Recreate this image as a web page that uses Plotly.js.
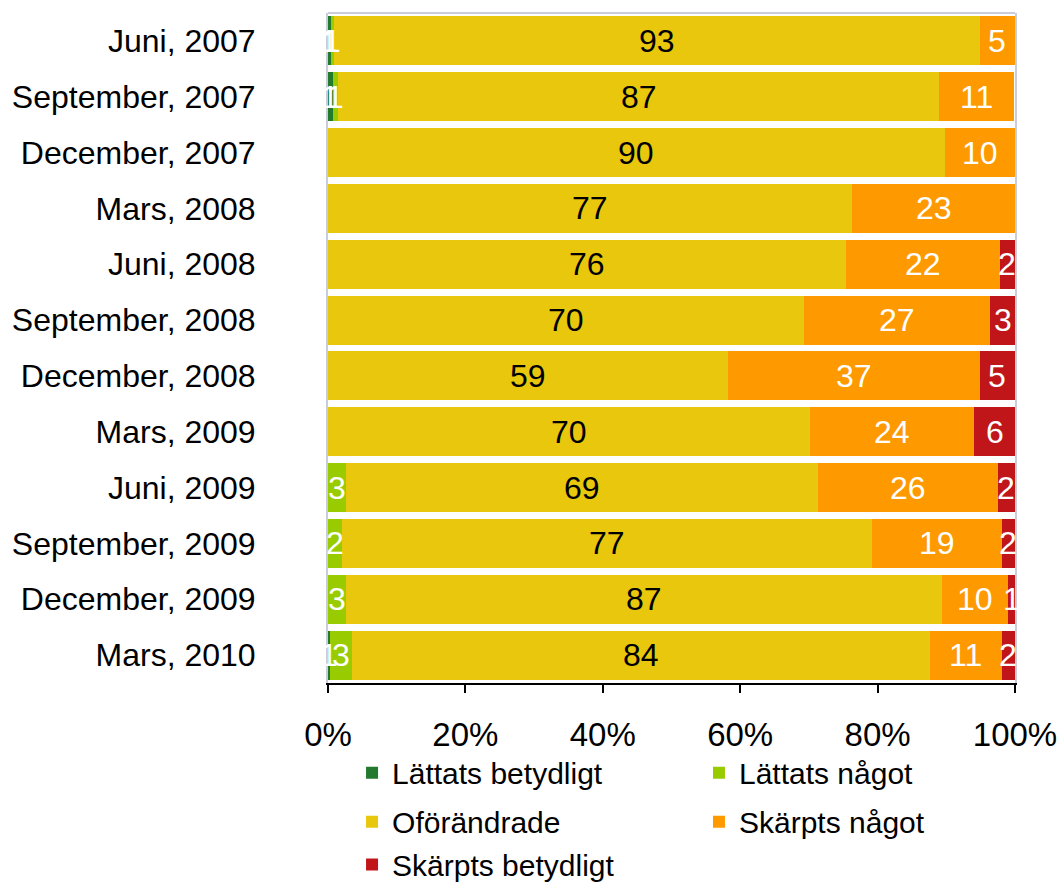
<!DOCTYPE html>
<html>
<head>
<meta charset="utf-8">
<script src="https://cdn.plot.ly/plotly-3.0.1.min.js"></script>
<style>html,body{margin:0;padding:0;background:#fff;}#chart{width:1059px;height:884px;}</style>
</head>
<body>
<div id="chart"></div>
<script>
var categories = ["Juni, 2007","September, 2007","December, 2007","Mars, 2008","Juni, 2008","September, 2008","December, 2008","Mars, 2009","Juni, 2009","September, 2009","December, 2009","Mars, 2010"];

// Bar widths (percent)
var lattatsBetydligt  = [0.4, 0.7, 0, 0, 0, 0, 0, 0, 0, 0, 0, 0.3];
var lattatsNagot      = [0.5, 0.7, 0, 0, 0, 0, 0, 0, 2.6, 2.0, 2.6, 3.2];
var oforandrade       = [94.0, 87.6, 89.8, 76.3, 75.4, 69.3, 58.2, 70.2, 68.7, 77.2, 86.8, 84.1];
var skarptsNagot      = [5.1, 10.9, 10.2, 23.7, 22.4, 27.1, 36.7, 23.9, 26.2, 18.9, 9.6, 10.5];
var skarptsBetydligt  = [0, 0, 0, 0, 2.2, 3.6, 5.1, 5.9, 2.5, 1.9, 1.0, 1.9];

// Printed data labels
var lblLattatsBetydligt = ["1","1","","","","","","","","","","1"];
var lblLattatsNagot     = ["1","1","","","","","","","3","2","3","3"];
var lblOforandrade      = ["93","87","90","77","76","70","59","70","69","77","87","84"];
var lblSkarptsNagot     = ["5","11","10","23","22","27","37","24","26","19","10","11"];
var lblSkarptsBetydligt = ["","","","","2","3","5","6","2","2","1","2"];

var seriesNames = ["Lättats betydligt","Lättats något","Oförändrade","Skärpts något","Skärpts betydligt"];
var seriesColors = ["#237A2E","#99CC00","#E8C70C","#FF9900","#C0161A"];
var labelColors = ["#FFFFFF","#FFFFFF","#000000","#FFFFFF","#FFFFFF"];
var seriesValues = [lattatsBetydligt, lattatsNagot, oforandrade, skarptsNagot, skarptsBetydligt];
var seriesLabels = [lblLattatsBetydligt, lblLattatsNagot, lblOforandrade, lblSkarptsNagot, lblSkarptsBetydligt];

var FONT = "Liberation Sans, Arial, sans-serif";
var FS_BAR = 32, FS_Y = 32, FS_X = 33, FS_LEG = 30;

var traces = seriesNames.map(function(name, i){
  return {
    type: "bar",
    orientation: "h",
    name: name,
    y: categories,
    x: seriesValues[i],
    marker: {color: seriesColors[i], line: {width: 0}},
    hoverinfo: "x+y+name",
    legend: i === 0 ? "legend" : "legend" + (i + 1)
  };
});

// Data labels centred on each stacked segment (computed from the data)
var annotations = [];
categories.forEach(function(cat, j){
  var start = 0;
  seriesValues.forEach(function(vals, i){
    var v = vals[j];
    var t = seriesLabels[i][j];
    if (t !== "") {
      annotations.push({
        x: start + v / 2, y: cat, xref: "x", yref: "y",
        text: t, showarrow: false,
        xanchor: "center", yanchor: "middle",
        font: {family: FONT, size: FS_BAR, color: labelColors[i]}
      });
    }
    start += v;
  });
});

var legBase = {
  orientation: "h",
  bgcolor: "rgba(0,0,0,0)",
  font: {family: FONT, size: FS_LEG, color: "#000"},
  xanchor: "left",
  yanchor: "middle",
  itemclick: false
};
function leg(x, y){ var o = Object.assign({}, legBase); o.x = x; o.y = y; return o; }

var layout = {
  width: 1059,
  height: 884,
  margin: {l: 328, r: 44, t: 13, b: 201, autoexpand: false},
  paper_bgcolor: "#ffffff",
  plot_bgcolor: "#ffffff",
  font: {family: FONT, size: FS_Y, color: "#000"},
  barmode: "stack",
  bargap: 0.12,
  showlegend: true,
  legend:  leg(0.035, -0.134),
  legend2: leg(0.54, -0.134),
  legend3: leg(0.035, -0.207),
  legend4: leg(0.54, -0.207),
  legend5: leg(0.035, -0.271),
  annotations: annotations,
  xaxis: {
    range: [0, 100],
    tickvals: [0, 20, 40, 60, 80, 100],
    ticktext: ["0%","20%","40%","60%","80%","100%"],
    showgrid: false,
    zeroline: false,
    showline: true,
    linecolor: "#000",
    linewidth: 2,
    ticks: "outside",
    ticklen: 8,
    tickwidth: 2,
    tickcolor: "#000",
    ticklabelstandoff: 13,
    tickfont: {family: FONT, size: FS_X, color: "#000"},
    fixedrange: true
  },
  yaxis: {
    type: "category",
    autorange: "reversed",
    showgrid: false,
    zeroline: false,
    showline: true,
    mirror: true,
    linecolor: "#C9CDD9",
    linewidth: 2,
    ticks: "",
    ticklabelstandoff: 64,
    tickfont: {family: FONT, size: FS_Y, color: "#000"},
    fixedrange: true
  },
  shapes: [{
    type: "line", xref: "paper", yref: "paper",
    x0: 0, x1: 1, y0: 1, y1: 1,
    line: {color: "#C9CDD9", width: 2},
    layer: "below"
  }]
};

Plotly.newPlot("chart", traces, layout, {displayModeBar: false, staticPlot: true});
</script>
</body>
</html>
